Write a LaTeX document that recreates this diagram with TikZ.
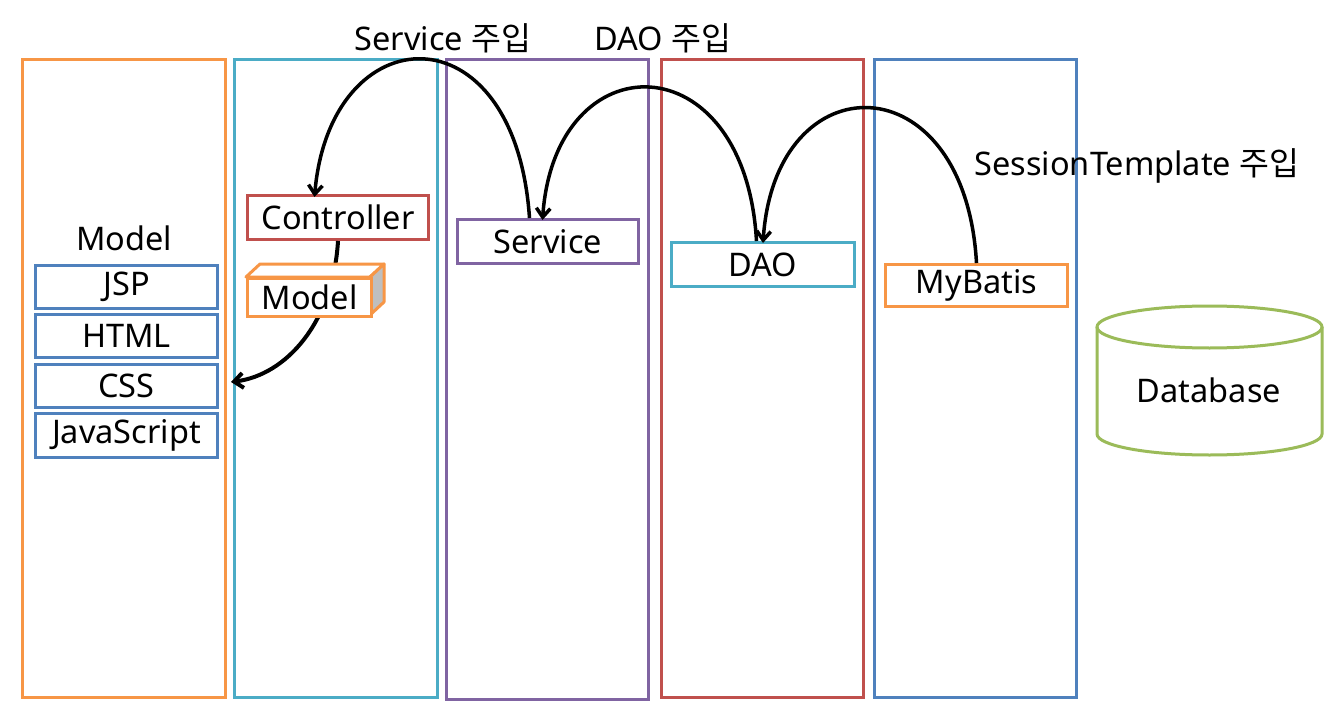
\documentclass[tikz,border=0pt]{standalone}
\usepackage{fontspec}
\setmainfont{Noto Sans}
\newfontfamily\cjk{Noto Sans CJK KR}
\usetikzlibrary{arrows.meta,calc}
\definecolor{oorange}{HTML}{F79646}
\definecolor{ocyan}{HTML}{4BACC6}
\definecolor{opurple}{HTML}{8064A2}
\definecolor{ored}{HTML}{C0504D}
\definecolor{oblue}{HTML}{4F81BD}
\definecolor{ogreen}{HTML}{9BBB59}
\definecolor{ogrey}{HTML}{BFBFBF}
\begin{document}
\begin{tikzpicture}[x=1pt,y=-1pt,
  every node/.style={font=\fontsize{32.5}{38}\selectfont},
  column/.style={draw=#1,line width=3pt,fill=none},
  box/.style={draw=#1,line width=3pt,fill=white,inner sep=0pt,anchor=north west},
  inj/.style={-{Straight Barb[length=9pt,width=14pt,line width=3.5pt]},line width=3.5pt},
  lbl/.style={inner sep=0pt}]
\useasboundingbox (0,0) rectangle (1340,722);
\fill[white] (0,0) rectangle (1340,722);
% columns
\draw[column=oorange] (22,60) rectangle (225,697);
\draw[column=ocyan] (234,60) rectangle (437,697);
\draw[column=opurple] (446,60) rectangle (648,699);
\draw[column=ored] (661,60) rectangle (863,697);
\draw[column=oblue] (874,60) rectangle (1076,697);
% left column
\node[lbl] (mlabel) at (124,238) {Model};
\node[box=oblue,minimum width=182pt,minimum height=43pt] (jsp) at (34,264) {JSP};
\node[box=oblue,minimum width=182pt,minimum height=43pt] (html) at (34,313) {HTML};
\node[box=oblue,minimum width=182pt,minimum height=43pt] (css) at (34,363) {CSS};
\node[box=oblue,minimum width=182pt,minimum height=44pt] (js) at (34,412) {JavaScript};
% nodes
\node[box=ored,minimum width=181pt,minimum height=44pt] (ctrl) at (246,194) {Controller};
\node[box=opurple,minimum width=181pt,minimum height=44pt] (svc) at (456,218) {Service};
\node[box=ocyan,minimum width=183pt,minimum height=44pt] (dao) at (670,241) {DAO};
\node[box=oorange,minimum width=182pt,minimum height=42pt] (mybatis) at (884,263) {MyBatis};
% controller -> CSS
\coordinate (csstip) at ($(css.east)+(12,-4)$);
\draw[-{Straight Barb[length=9pt,width=15pt,line width=4pt]},line width=4pt]
  (ctrl.south) .. controls ($(ctrl.south)+(-5,82)$) and ($(ctrl.south)+(-52,134)$) .. (csstip);
% Model cuboid
\filldraw[draw=oorange,fill=white,line width=3pt,line join=round] (246,277) -- (260,264) -- (384,264) -- (370,277) -- cycle;
\filldraw[draw=oorange,fill=ogrey,line width=3pt,line join=round] (370,277) -- (384,264) -- (384,302) -- (370,315) -- cycle;
\node[box=oorange,minimum width=124pt,minimum height=38pt] (model) at (246,277) {Model};
% database
\node[lbl] (db) at (1209,390) {Database};
\draw[ogreen,line width=3pt] (1209.5,327) ellipse[x radius=112.5pt,y radius=21pt];
\draw[ogreen,line width=3pt] (1097,327) -- (1097,434) arc[start angle=180,end angle=360,x radius=112.5pt,y radius=21pt] -- (1322,327);
% injection arrows
\draw[inj] ([xshift=-18.5pt]svc.north) .. controls (515,5) and (330,15) .. ([xshift=-23.5pt,yshift=-3pt]ctrl.north);
\draw[inj] ([xshift=-6.5pt]dao.north) .. controls (745,40) and (555,40) .. ([xshift=-5.5pt,yshift=-2pt]svc.north);
\draw[inj] (mybatis.north) .. controls (965,60) and (775,60) .. ([yshift=-2pt]dao.north);
% labels
\node[lbl] (l1) at (443,38) {Service {\cjk 주입}};
\node[lbl] (l2) at (663,38) {DAO {\cjk 주입}};
\node[lbl] (l3) at (1137,166) {SessionTemplate {\cjk 주입}};
\end{tikzpicture}
\end{document}
